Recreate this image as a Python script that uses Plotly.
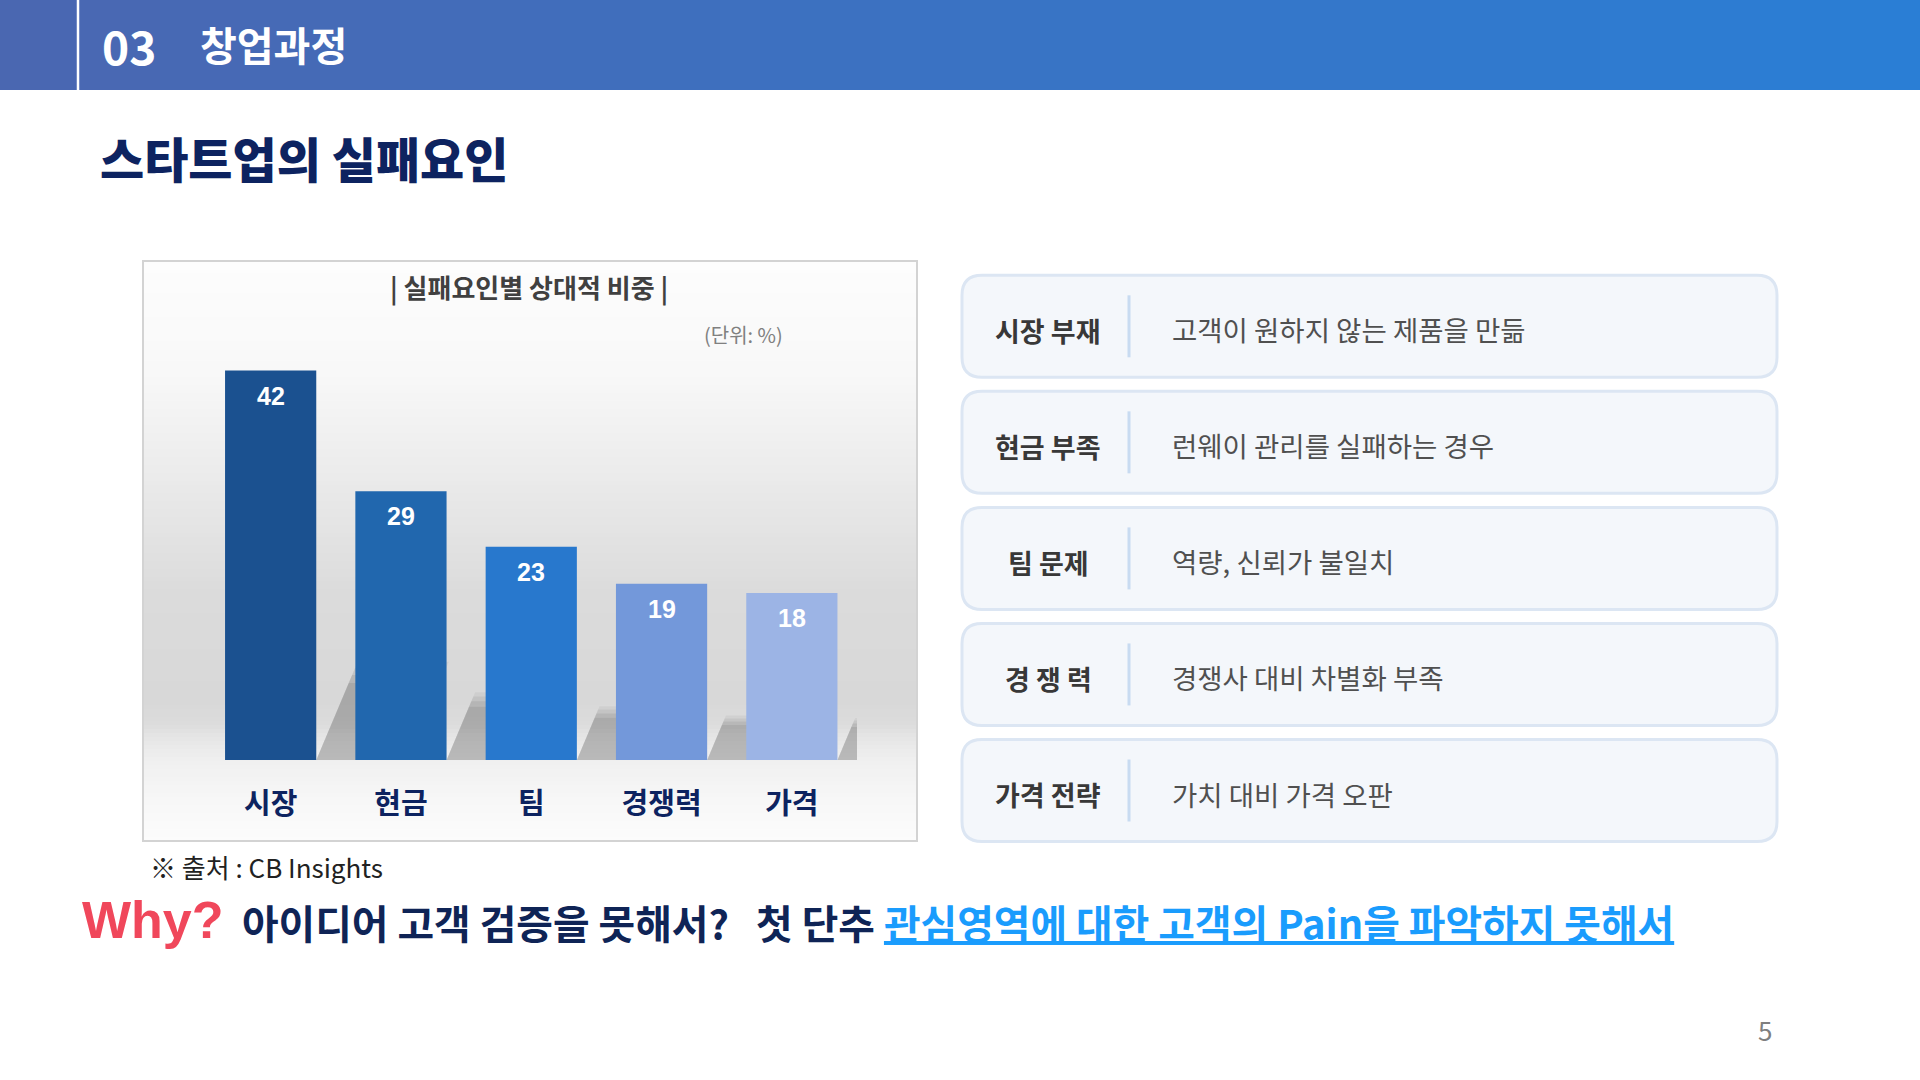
import plotly.graph_objects as go

# ---------------- data ----------------
categories = ["시장", "현금", "팀", "경쟁력", "가격"]
values = [42, 29, 23, 19, 18]
bar_colors = ["#1b5190", "#2167ae", "#2878cd", "#7398da", "#9cb4e5"]

factor_labels = ["시장 부재", "현금 부족", "팀 문제", "경 쟁 력", "가격 전략"]
factor_desc = ["고객이 원하지 않는 제품을 만듦", "런웨이 관리를 실패하는 경우",
               "역량, 신뢰가 불일치", "경쟁사 대비 차별화 부족", "가치 대비 가격 오판"]

header_num = "03"
header_text = "창업과정"
slide_title = "스타트업의 실패요인"
chart_title = "| 실패요인별 상대적 비중 |"
unit_text = "(단위: %)"
source_text = "※ 출처 : CB Insights"
why_text = "Why?"
why_q = "아이디어 고객 검증을 못해서?"
why_a1 = "첫 단추"
why_a2 = "관심영역에 대한 고객의 Pain을 파악하지 못해서"
page_no = "5"

# ---------------- helpers ----------------
W, H = 1920, 1080
KR = "Noto Sans CJK KR"
NAVY = "#0d2360"


def px(x):
    return x / W


def py(y):
    return 1 - y / H


def lerp_color(c0, c1, t):
    a = [int(c0[i:i + 2], 16) for i in (1, 3, 5)]
    b = [int(c1[i:i + 2], 16) for i in (1, 3, 5)]
    return "rgb(%d,%d,%d)" % tuple(round(a[k] + (b[k] - a[k]) * t) for k in range(3))


def rrect_path(x0, y0, x1, y1, r):
    pts = [("M", [(x0 + r, y0)]), ("L", [(x1 - r, y0)]), ("Q", [(x1, y0), (x1, y0 + r)]),
           ("L", [(x1, y1 - r)]), ("Q", [(x1, y1), (x1 - r, y1)]), ("L", [(x0 + r, y1)]),
           ("Q", [(x0, y1), (x0, y1 - r)]), ("L", [(x0, y0 + r)]), ("Q", [(x0, y0), (x0 + r, y0)])]
    s = ""
    for cmd, ps in pts:
        s += cmd + " " + " ".join("%.5f,%.5f" % (px(a), py(b)) for a, b in ps) + " "
    return s + "Z"


shapes = []
annotations = []

# ---------------- header bar ----------------
n_strips = 48
for k in range(n_strips):
    x0 = W * k / n_strips
    x1 = W * (k + 1) / n_strips + 1
    shapes.append(dict(type="rect", xref="paper", yref="paper", layer="below",
                       x0=px(x0), x1=px(min(x1, W)), y0=py(90), y1=py(0),
                       fillcolor=lerp_color("#4a67b1", "#2a7ed5", k / (n_strips - 1)),
                       line=dict(width=0)))
shapes.append(dict(type="line", xref="paper", yref="paper", layer="below",
                   x0=px(78), x1=px(78), y0=py(0), y1=py(90),
                   line=dict(color="white", width=2.5)))
annotations.append(dict(text="<b>%s</b>" % header_num, x=px(100), y=py(45), xref="paper", yref="paper",
                        xanchor="left", yanchor="middle", showarrow=False,
                        font=dict(family=KR, size=46, color="white")))
annotations.append(dict(text="<b>%s</b>" % header_text, x=px(198), y=py(44), xref="paper", yref="paper",
                        xanchor="left", yanchor="middle", showarrow=False,
                        font=dict(family=KR, size=40, color="white")))

# slide title
annotations.append(dict(text=slide_title, x=px(98), y=py(157), xref="paper", yref="paper",
                        xanchor="left", yanchor="middle", showarrow=False,
                        font=dict(family=KR, size=48, color=NAVY, weight=900)))

# ---------------- chart box background gradient ----------------
bx0, bx1, by0, by1 = 143, 917, 261, 841
stops = [(261, 253), (373, 248), (483, 234), (594, 219), (700, 216), (722, 219),
         (740, 231), (762, 240), (800, 247), (841, 252)]


def gray_at(y):
    for (ya, ga), (yb, gb) in zip(stops[:-1], stops[1:]):
        if ya <= y <= yb:
            t = (y - ya) / (yb - ya)
            return ga + (gb - ga) * t
    return stops[-1][1]


step = 4
y = by0
while y < by1:
    y2 = min(y + step, by1)
    g = round(gray_at((y + y2) / 2))
    shapes.append(dict(type="rect", xref="paper", yref="paper", layer="below",
                       x0=px(bx0), x1=px(bx1), y0=py(y2 + 0.5), y1=py(y),
                       fillcolor="rgb(%d,%d,%d)" % (g, g, g), line=dict(width=0)))
    y = y2
shapes.append(dict(type="rect", xref="paper", yref="paper", layer="below",
                   x0=px(bx0), x1=px(bx1), y0=py(by1), y1=py(by0),
                   fillcolor="rgba(0,0,0,0)", line=dict(color="#d3d3d3", width=2)))

# ---------------- bar shadows (derived from the data, cast to the back-right) ----------------
bar_w = 0.7
shadow_ratio = 0.225
shadow_skew = 0.030
for i, v in enumerate(values):
    h = v * shadow_ratio
    xr = i + bar_w / 2
    for s, op in [(1.12, 0.045), (1.05, 0.055), (0.97, 0.065), (0.88, 0.07)]:
        dx = shadow_skew * h * s
        path = "M %.4f,0 L %.4f,0 L %.4f,%.4f L %.4f,%.4f Z" % (
            xr, xr + bar_w, xr + bar_w + dx, h * s, xr + dx, h * s)
        shapes.append(dict(type="path", xref="x", yref="y", layer="below", path=path,
                           fillcolor="rgba(0,0,0,%.3f)" % op, line=dict(width=0)))

# ---------------- bars ----------------
fig = go.Figure()
fig.add_trace(go.Bar(x=categories, y=values, width=bar_w,
                     marker=dict(color=bar_colors, line=dict(width=0)),
                     hoverinfo="skip", showlegend=False))

for c, v in zip(categories, values):
    annotations.append(dict(text="<b>%d</b>" % v, x=c, y=v, xref="x", yref="y",
                            yshift=-25, showarrow=False, xanchor="center", yanchor="middle",
                            font=dict(family="Liberation Sans Narrow, Arial Narrow, Liberation Sans",
                                      size=25, color="white")))

annotations.append(dict(text="<b>%s</b>" % chart_title, x=px(529), y=py(287), xref="paper", yref="paper",
                        xanchor="center", yanchor="middle", showarrow=False,
                        font=dict(family=KR, size=26, color="#404040")))
annotations.append(dict(text=unit_text, x=px(743), y=py(334), xref="paper", yref="paper",
                        xanchor="center", yanchor="middle", showarrow=False,
                        font=dict(family=KR, size=20, color="#808080")))
annotations.append(dict(text=source_text, x=px(148), y=py(866), xref="paper", yref="paper",
                        xanchor="left", yanchor="middle", showarrow=False,
                        font=dict(family=KR, size=26, color="#222222")))

# ---------------- right side boxes ----------------
box_x0, box_x1 = 962, 1777
box_c0, box_gap, box_half = 326.3, 116.05, 51
for i, (lab, desc) in enumerate(zip(factor_labels, factor_desc)):
    cy = box_c0 + i * box_gap
    shapes.append(dict(type="path", xref="paper", yref="paper", layer="below",
                       path=rrect_path(box_x0, cy - box_half, box_x1, cy + box_half, 20),
                       fillcolor="#f4f7fb", line=dict(color="#dce6f3", width=3)))
    shapes.append(dict(type="line", xref="paper", yref="paper", layer="below",
                       x0=px(1129), x1=px(1129), y0=py(cy - 31), y1=py(cy + 31),
                       line=dict(color="#c8dbf1", width=3)))
    annotations.append(dict(text="<b>%s</b>" % lab, x=px(1048), y=py(cy + 4), xref="paper", yref="paper",
                            xanchor="center", yanchor="middle", showarrow=False,
                            font=dict(family=KR, size=27, color="#383838")))
    annotations.append(dict(text=desc, x=px(1170), y=py(cy + 3), xref="paper", yref="paper",
                            xanchor="left", yanchor="middle", showarrow=False,
                            font=dict(family=KR, size=27.5, color="#505050")))

# ---------------- bottom message ----------------
annotations.append(dict(text="<b>%s</b>" % why_text, x=px(80), y=py(920), xref="paper", yref="paper",
                        xanchor="left", yanchor="middle", showarrow=False,
                        font=dict(family="Liberation Sans, Arial", size=52, color="#f0475b")))
msg = ("<b>%s\u00a0\u00a0\u00a0%s <span style='color:#1a9cfd'><u>%s</u></span></b>"
       % (why_q, why_a1, why_a2))
annotations.append(dict(text=msg, x=px(240), y=py(921), xref="paper", yref="paper",
                        xanchor="left", yanchor="middle", showarrow=False,
                        font=dict(family=KR, size=39.8, color="#0f2456")))
annotations.append(dict(text=page_no, x=px(1765), y=py(1029), xref="paper", yref="paper",
                        xanchor="center", yanchor="middle", showarrow=False,
                        font=dict(family=KR, size=26, color="#7f7f7f")))

# ---------------- layout ----------------
fig.update_layout(
    width=W, height=H,
    margin=dict(l=0, r=0, t=0, b=0),
    paper_bgcolor="white", plot_bgcolor="rgba(0,0,0,0)",
    bargap=0.3,
    shapes=shapes, annotations=annotations,
    xaxis=dict(domain=[205.5 / W, 857 / W], range=[-0.5, 4.5], showgrid=False, zeroline=False,
               showline=False, ticks="", ticklabelstandoff=24, fixedrange=True,
               tickfont=dict(family=KR, size=29, color=NAVY, weight="bold")),
    yaxis=dict(domain=[1 - 760 / H, 1 - 342.8 / H], range=[0, 45], visible=False,
               showgrid=False, zeroline=False, fixedrange=True),
    showlegend=False,
)

fig.write_html("out.html", config={"displayModeBar": False},
               post_script="document.body.style.margin='0';document.body.style.overflow='hidden';")
